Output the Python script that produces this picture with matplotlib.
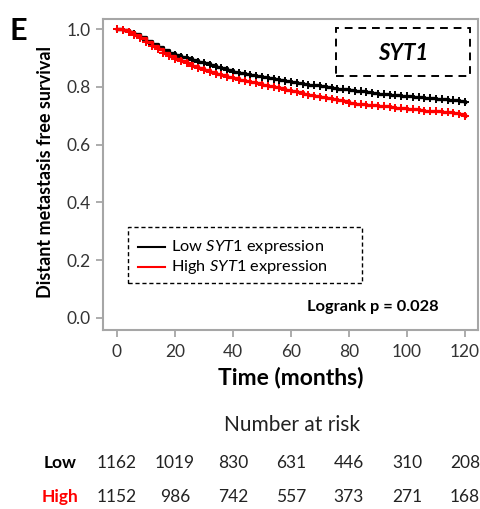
import matplotlib
matplotlib.use("Agg")
import matplotlib.pyplot as plt
from matplotlib.patches import Rectangle
from matplotlib.lines import Line2D

plt.rcParams['font.family'] = ['Lato', 'DejaVu Sans']
plt.rcParams['mathtext.fontset'] = 'custom'
plt.rcParams['mathtext.it'] = 'Lato:italic'
plt.rcParams['mathtext.rm'] = 'Lato'
plt.rcParams['mathtext.bf'] = 'Lato:bold'

# Kaplan-Meier estimates (months, survival probability)
months = [0, 2, 4, 6, 8, 10, 12, 14, 16, 18, 20, 22, 24, 26, 28, 30, 32, 34,
          36, 38, 40, 42, 44, 46, 48, 50, 52, 54, 56, 58, 60, 62, 64, 66, 68,
          70, 72, 74, 76, 78, 80, 82, 84, 86, 88, 90, 92, 94, 96, 98, 100,
          102, 104, 106, 108, 110, 112, 114, 116, 118, 120]
surv_low = [1.000, 0.996, 0.990, 0.982, 0.972, 0.960, 0.948, 0.937, 0.927,
            0.918, 0.911, 0.905, 0.899, 0.893, 0.887, 0.881, 0.875, 0.869,
            0.864, 0.858, 0.853, 0.849, 0.845, 0.841, 0.838, 0.834, 0.830,
            0.828, 0.825, 0.821, 0.818, 0.814, 0.811, 0.808, 0.805, 0.802,
            0.799, 0.796, 0.794, 0.791, 0.789, 0.786, 0.784, 0.781, 0.779,
            0.777, 0.775, 0.773, 0.771, 0.769, 0.767, 0.765, 0.764, 0.762,
            0.760, 0.758, 0.757, 0.755, 0.753, 0.751, 0.749]
surv_high = [1.000, 0.996, 0.990, 0.980, 0.968, 0.956, 0.943, 0.930, 0.918,
             0.907, 0.897, 0.889, 0.881, 0.873, 0.866, 0.859, 0.852, 0.846,
             0.840, 0.835, 0.830, 0.825, 0.820, 0.816, 0.812, 0.807, 0.803,
             0.799, 0.795, 0.790, 0.785, 0.781, 0.777, 0.773, 0.770, 0.766,
             0.762, 0.758, 0.755, 0.750, 0.745, 0.742, 0.740, 0.738, 0.737,
             0.735, 0.733, 0.730, 0.728, 0.726, 0.724, 0.722, 0.720, 0.718,
             0.717, 0.715, 0.714, 0.712, 0.710, 0.706, 0.700]

# Number at risk table
risk_times = [0, 20, 40, 60, 80, 100, 120]
risk_low = [1162, 1019, 830, 631, 446, 310, 208]
risk_high = [1152, 986, 742, 557, 373, 271, 168]

gene = "SYT1"
p_text = "Logrank p = 0.028"

W, H = 480, 509
fig = plt.figure(figsize=(W / 100, H / 100), dpi=100)


def fx(x):
    return x / W


def fy(y):
    return 1 - y / H


ax = fig.add_axes([fx(103), fy(330), fx(478) - fx(103), fy(19) - fy(330)])

ax.plot(months, surv_low, drawstyle='steps-post', color='black', lw=2.4,
        marker='+', ms=6, mew=1.4, zorder=3)
ax.plot(months, surv_high, drawstyle='steps-post', color='red', lw=2.4,
        marker='+', ms=6, mew=1.4, zorder=3)

ax.set_xlim(-4.8, 124.5)
ax.set_ylim(-0.042, 1.035)
ax.set_xticks([0, 20, 40, 60, 80, 100, 120])
ax.set_yticks([0.0, 0.2, 0.4, 0.6, 0.8, 1.0])
ax.set_yticklabels(["0.0", "0.2", "0.4", "0.6", "0.8", "1.0"])
for s in ax.spines.values():
    s.set_color('#a6a6a6')
    s.set_linewidth(1.5)
ax.tick_params(colors='#a6a6a6', length=5, width=1.3, labelcolor='#333333',
               labelsize=12.5)
ax.tick_params(axis='x', pad=5)
ax.tick_params(axis='y', pad=4)

ax.set_xlabel("Time (months)", fontsize=16.5, fontweight='bold', labelpad=5)
fig.text(fx(46), fy(172), "Distant metastasis free survival", rotation=90,
         ha='center', va='center', fontsize=13, fontweight='bold')

fig.text(fx(9), fy(31), "E", fontsize=22, fontweight='bold', ha='left',
         va='center')

# Gene label box
fig.patches.append(Rectangle((fx(336), fy(76)), fx(470) - fx(336),
                             fy(28) - fy(76), transform=fig.transFigure,
                             fill=False, ls=(0, (4, 3)), lw=1.4,
                             edgecolor='black'))
fig.text(fx(403), fy(53), gene, fontsize=16, fontweight='bold',
         style='italic', ha='center', va='center')

# Legend box
fig.patches.append(Rectangle((fx(128), fy(283)), fx(362) - fx(128),
                             fy(227) - fy(283), transform=fig.transFigure,
                             fill=False, ls=(0, (3, 2)), lw=1.0,
                             edgecolor='black'))
for yy, col, lab in [(247, 'black', 'Low'), (267, 'red', 'High')]:
    fig.lines.append(Line2D([fx(138), fx(165)], [fy(yy), fy(yy)],
                            transform=fig.transFigure, color=col, lw=1.5))
    fig.text(fx(171), fy(yy), lab + r" $\mathit{" + gene + r"}$ expression",
             fontsize=11.8, ha='left', va='center')

fig.text(fx(439), fy(307), p_text, fontsize=11.8, fontweight='bold',
         ha='right', va='center')

# Number at risk
fig.text(fx(292), fy(425), "Number at risk", fontsize=15, ha='center',
         va='center', color='#222222')
fig.text(fx(60), fy(463), "Low", fontsize=12.5, fontweight='bold',
         ha='center', va='center')
fig.text(fx(60), fy(497), "High", fontsize=12.5, fontweight='bold',
         ha='center', va='center', color='red')
for t, lo, hi in zip(risk_times, risk_low, risk_high):
    xd = ax.transData.transform((t, 0))[0]
    xf = fig.transFigure.inverted().transform((xd, 0))[0]
    fig.text(xf, fy(463), str(lo), fontsize=12.5, ha='center', va='center',
             color='#222222')
    fig.text(xf, fy(497), str(hi), fontsize=12.5, ha='center', va='center',
             color='#222222')

fig.savefig("out.png", dpi=100)
